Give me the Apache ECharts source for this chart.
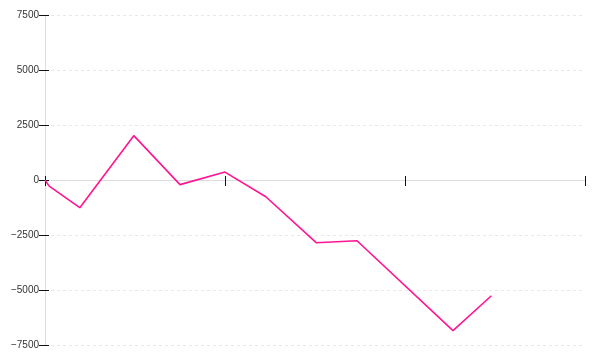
<!DOCTYPE html>
<html>
<head>
<meta charset="utf-8">
<script src="https://cdn.jsdelivr.net/npm/echarts@6/dist/echarts.min.js"></script>
<style>html,body{margin:0;padding:0;background:#fff}#c{width:600px;height:360px}</style>
</head>
<body>
<div id="c"></div>
<script>
var xValues = [0, 0.7, 5.8, 14.8, 22.5, 30, 36.8, 45.2, 52, 68, 74.4];
var yValues = [0, -280, -1260, 2015, -210, 360, -760, -2850, -2760, -6850, -5260];
var yTicks = [-7500, -5000, -2500, 0, 2500, 5000, 7500];
var xTicks = [0, 30, 60, 90];

var points = xValues.map(function (x, i) { return [x, yValues[i]]; });
var fmt = function (v) { return String(v).replace('-', '\u2212'); };

var chart = echarts.init(document.getElementById('c'), null, {renderer: 'canvas'});
var xBase = {
  type: 'value', min: xTicks[0], max: xTicks[xTicks.length - 1], interval: xTicks[1] - xTicks[0],
  axisLabel: {show: false}, splitLine: {show: false}
};
var yBase = {
  type: 'value', min: yTicks[0], max: yTicks[yTicks.length - 1], interval: yTicks[1] - yTicks[0]
};
chart.setOption({
  animation: false,
  backgroundColor: '#fff',
  grid: {left: 45, right: 15, top: 15, bottom: 15, containLabel: false},
  xAxis: [
    Object.assign({}, xBase, {
      position: 'bottom',
      axisLine: {show: true, onZero: true, lineStyle: {color: '#dddddd', width: 1}},
      axisTick: {show: true, inside: false, length: 6, lineStyle: {color: '#111', width: 1}}
    }),
    Object.assign({}, xBase, {
      position: 'bottom',
      axisLine: {show: false, onZero: true},
      axisTick: {show: true, inside: true, length: 4, lineStyle: {color: '#111', width: 1}}
    })
  ],
  yAxis: [
    Object.assign({}, yBase, {
      position: 'left',
      axisLine: {show: true, lineStyle: {color: '#dddddd', width: 1}},
      axisTick: {show: true, inside: false, length: 6, lineStyle: {color: '#111', width: 1}},
      axisLabel: {show: true, margin: 6, color: '#333', fontSize: 10, fontFamily: 'Liberation Sans, Arial, sans-serif', formatter: fmt},
      splitLine: {show: true, lineStyle: {color: '#e8e8e8', type: [3, 3], width: 1}}
    }),
    Object.assign({}, yBase, {
      position: 'left',
      axisLine: {show: false},
      axisTick: {show: true, inside: true, length: 4, lineStyle: {color: '#111', width: 1}},
      axisLabel: {show: false},
      splitLine: {show: false}
    })
  ],
  series: [{
    type: 'line',
    xAxisIndex: 0,
    yAxisIndex: 0,
    data: points,
    showSymbol: false,
    symbol: 'none',
    lineStyle: {color: '#ff1493', width: 1.6},
    z: 3
  }]
});
</script>
</body>
</html>
